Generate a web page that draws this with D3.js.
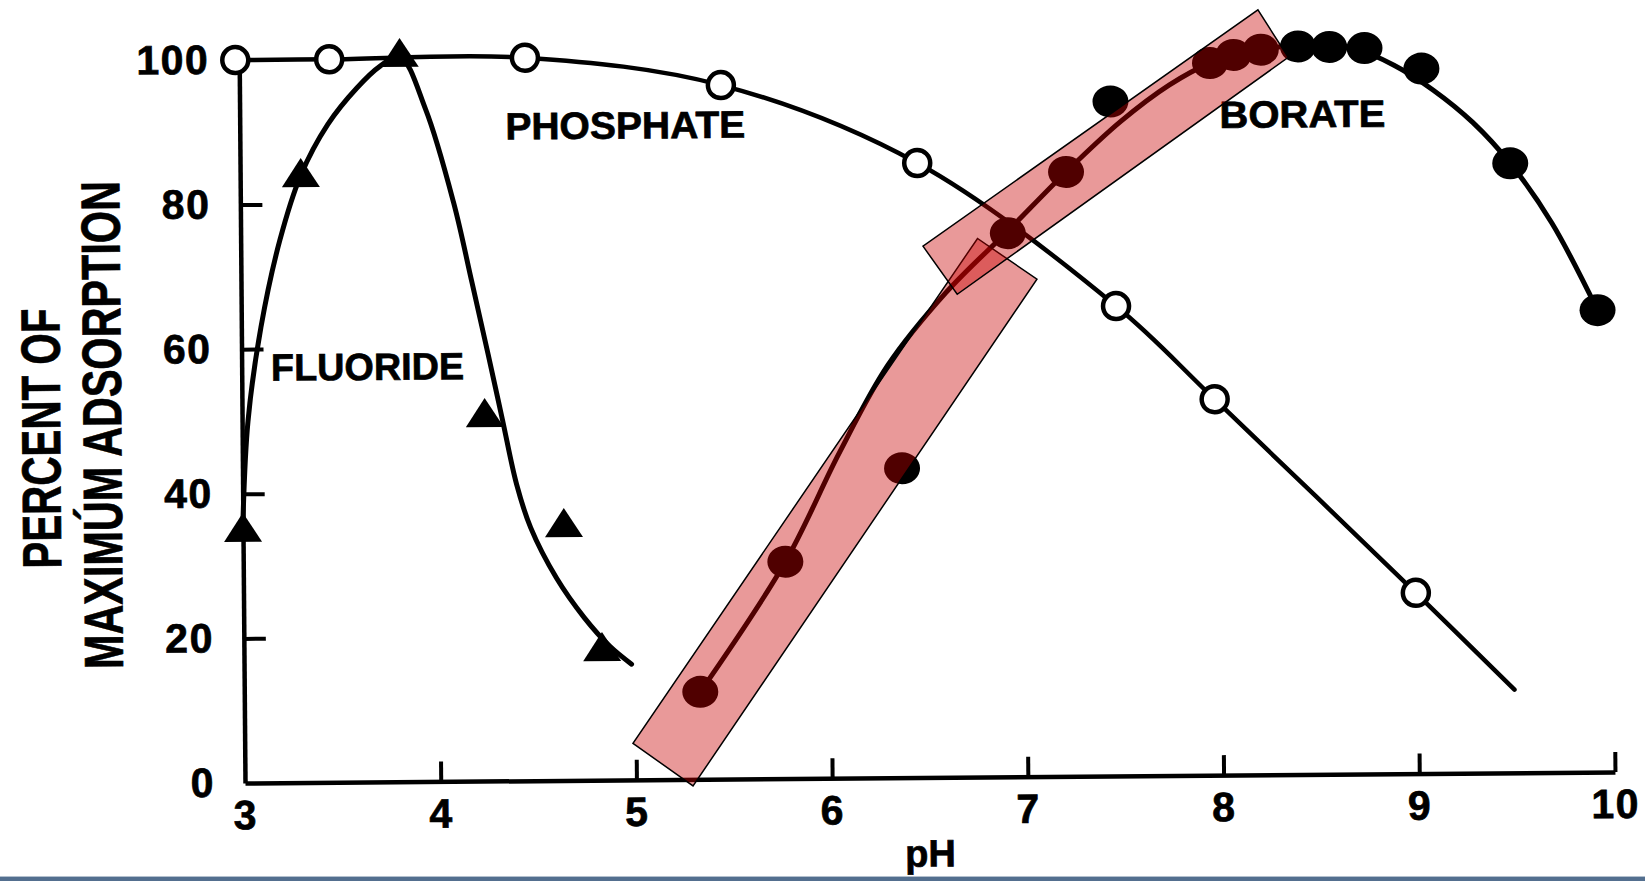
<!DOCTYPE html>
<html><head><meta charset="utf-8">
<script src="https://cdn.jsdelivr.net/npm/d3@7"></script>
<style>html,body{margin:0;padding:0;background:#fff;overflow:hidden}svg{display:block}</style>
</head><body>
<svg id="chart" width="1645" height="881"></svg>
<script>
// ---------- data ----------
const xTicks = [3, 4, 5, 6, 7, 8, 9, 10];
const yTicks = [0, 20, 40, 60, 80, 100];
const xTitle = "pH";
const yTitleLines = ["PERCENT OF", "MAXIMÚM ADSORPTION"];

// Phosphate (open circles)
const phosphatePH  = [2.98, 3.46, 4.46, 5.46, 6.46, 7.47, 7.97, 8.99];
const phosphateVal = [100, 100, 100, 96, 85, 65, 52, 25];
// phosphate line (through the points, ending past the last one)
const phosphateLinePH  = [2.98, 3.46, 4.46, 5.46, 6.46, 7.47, 7.97, 8.99, 9.49];
const phosphateLineVal = [100, 100, 100, 96, 85, 65, 52, 25, 11.5];

// Fluoride (filled triangles)
const fluoridePH  = [3.0, 3.31, 3.82, 4.24, 4.64, 4.83];
const fluorideVal = [35.3, 84.3, 100.8, 50.9, 35.6, 18.4];
// fluoride fitted curve
const fluorideCurvePH  = [3.0, 3.03, 3.1, 3.2, 3.31, 3.45, 3.6, 3.72, 3.82, 3.95, 4.09, 4.18, 4.26, 4.33, 4.4, 4.47, 4.6, 4.74, 4.87, 4.98];
const fluorideCurveVal = [36, 50, 63, 75, 84, 91, 96, 99, 100.3, 93, 80, 69, 59, 50, 41, 35, 28, 22.5, 18.5, 16];

// Borate (filled circles)
const boratePH  = [5.33, 5.77, 6.37, 6.92, 7.22, 7.45, 7.96, 8.08, 8.22, 8.41, 8.57, 8.75, 9.04, 9.49, 9.93];
const borateVal = [12.1, 30, 42.8, 75.2, 83.6, 93.3, 98.5, 99.6, 100.3, 100.7, 100.6, 100.4, 97.5, 84.3, 63.9];
// borate fitted curve
const borateCurvePH  = [5.33, 5.77, 6.05, 6.3, 6.6, 6.92, 7.22, 7.5, 7.75, 7.96, 8.2, 8.45, 8.7, 8.9, 9.1, 9.3, 9.49, 9.7, 9.93];
const borateCurveVal = [12.1, 30, 45, 57, 67, 75.5, 83.6, 90.5, 95.5, 98.5, 100.3, 100.8, 100.3, 98, 94.5, 90, 84.3, 76, 63.9];

// Curve labels
const labelText = ["PHOSPHATE", "BORATE", "FLUORIDE"];
const labelPH   = [4.97, 8.43, 3.643];
const labelVal  = [90.6, 91.4, 57.5];

// Highlight boxes (corners in data units)
const highlight1PH  = [4.984, 5.289, 7.067, 6.765];
const highlight1Val = [5.06, -0.91, 68.8, 74.5];
const highlight2PH  = [6.486, 6.659, 8.36, 8.207];
const highlight2Val = [73.5, 66.8, 99.2, 105.8];

// ---------- drawing ----------
const W = 1645, H = 881;
const X0 = 245, Y0 = 783, XW = 1370, YH = 723;
const tilt = -0.46; // the scanned page is slightly rotated

const svg = d3.select("#chart");
svg.append("rect").attr("width", W).attr("height", H).attr("fill", "#fff");

const x = d3.scaleLinear().domain([3, 10]).range([X0, X0 + XW]);
const y = d3.scaleLinear().domain([0, 100]).range([Y0, Y0 - YH]);

const g = svg.append("g").attr("transform", `rotate(${tilt},${X0},${Y0})`);
const FONT = "'Liberation Sans', Arial, Helvetica, sans-serif";
const boldText = sel => sel.attr("font-family", FONT).attr("font-weight", "bold").attr("fill", "#000")
  .attr("stroke", "#000").attr("stroke-width", 0.7);

// axes
const xAxis = d3.axisBottom(x).tickValues(xTicks).tickSizeInner(-20).tickSizeOuter(0).tickPadding(17)
  .tickFormat(d3.format("d"));
const yAxis = d3.axisLeft(y).tickValues(yTicks).tickSizeInner(-22).tickSizeOuter(0).tickPadding(30)
  .tickFormat(d3.format("d"));

const gx = g.append("g").attr("transform", `translate(0,${Y0})`).call(xAxis);
const gy = g.append("g").attr("transform", `translate(${X0},0)`).call(yAxis);
[gx, gy].forEach(a => {
  a.select(".domain").attr("stroke", "#000").attr("stroke-width", 4.5);
  a.selectAll(".tick line").attr("stroke", "#000").attr("stroke-width", 4);
  a.selectAll(".tick text").call(boldText).attr("font-size", 41).attr("letter-spacing", 1.5);
});
gx.selectAll(".tick").filter(d => d === 3).select("line").remove();
gy.selectAll(".tick").filter(d => d === 0 || d === 100).select("line").remove();

// axis titles
g.append("text").attr("x", x(6.5)).attr("y", Y0 + 89)
  .attr("text-anchor", "middle").call(boldText).attr("font-size", 38).text(xTitle);

const titleX = [63, 124];
const titleY = [437, 424];
const titleLen = [260, 488];
yTitleLines.forEach((t, i) => {
  g.append("text")
    .attr("transform", `translate(${titleX[i]},${titleY[i]}) rotate(-90)`)
    .attr("text-anchor", "middle").call(boldText).attr("font-size", 55)
    .attr("textLength", titleLen[i]).attr("lengthAdjust", "spacingAndGlyphs")
    .text(t);
});

const line = d3.line().x(d => x(d[0])).y(d => y(d[1])).curve(d3.curveCatmullRom.alpha(0.5));

// phosphate line
g.append("path").datum(d3.zip(phosphateLinePH, phosphateLineVal))
  .attr("d", line).attr("fill", "none").attr("stroke", "#000").attr("stroke-width", 4.5)
  .attr("stroke-linecap", "round");
// fluoride curve
g.append("path").datum(d3.zip(fluorideCurvePH, fluorideCurveVal))
  .attr("d", line).attr("fill", "none").attr("stroke", "#000").attr("stroke-width", 5)
  .attr("stroke-linecap", "round");
// borate curve
g.append("path").datum(d3.zip(borateCurvePH, borateCurveVal))
  .attr("d", line).attr("fill", "none").attr("stroke", "#000").attr("stroke-width", 5)
  .attr("stroke-linecap", "round");

// markers
g.append("g").selectAll("circle").data(d3.zip(phosphatePH, phosphateVal)).join("circle")
  .attr("cx", d => x(d[0])).attr("cy", d => y(d[1])).attr("r", 13)
  .attr("fill", "#fff").attr("stroke", "#000").attr("stroke-width", 4.5);

g.append("g").selectAll("ellipse").data(d3.zip(boratePH, borateVal)).join("ellipse")
  .attr("cx", d => x(d[0])).attr("cy", d => y(d[1])).attr("rx", 18).attr("ry", 16)
  .attr("fill", "#000");

const tri = "M0,-15L19,14L-19,14Z";
g.append("g").selectAll("path").data(d3.zip(fluoridePH, fluorideVal)).join("path")
  .attr("transform", d => `translate(${x(d[0])},${y(d[1])})`).attr("d", tri).attr("fill", "#000");

// curve labels
const labelLen = [240, 166, 193];
labelText.forEach((t, i) => {
  g.append("text").attr("x", x(labelPH[i])).attr("y", y(labelVal[i]))
    .attr("dy", "0.36em").attr("text-anchor", "middle")
    .call(boldText).attr("font-size", 38)
    .attr("textLength", labelLen[i]).attr("lengthAdjust", "spacingAndGlyphs")
    .text(t);
});

// highlight boxes
[[highlight1PH, highlight1Val], [highlight2PH, highlight2Val]].forEach(([px, pv]) => {
  g.append("polygon")
    .attr("points", d3.zip(px, pv).map(d => [x(d[0]), y(d[1])].join(",")).join(" "))
    .attr("fill", "rgb(200,0,0)").attr("fill-opacity", 0.4)
    .attr("stroke", "#000").attr("stroke-width", 1.5);
});

// bottom bar
svg.append("rect").attr("x", 0).attr("y", 876).attr("width", W).attr("height", 1).attr("fill", "#b3c0ce");
svg.append("rect").attr("x", 0).attr("y", 877).attr("width", W).attr("height", 4).attr("fill", "#536f8f");
</script>
</body></html>
